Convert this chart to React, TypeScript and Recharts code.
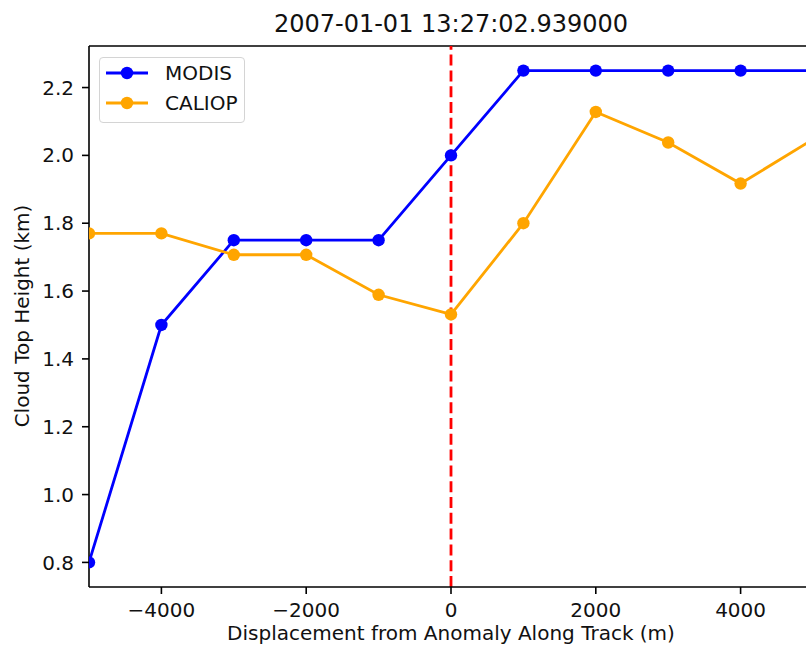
import { LineChart, Line, XAxis, YAxis, ReferenceLine, Legend } from "recharts";

const displacement = [-5000, -4000, -3000, -2000, -1000, 0, 1000, 2000, 3000, 4000, 5000];
const modisHeight = [0.8, 1.5, 1.75, 1.75, 1.75, 2.0, 2.25, 2.25, 2.25, 2.25, 2.25];
const caliopHeight = [1.77, 1.77, 1.707, 1.707, 1.589, 1.531, 1.8, 2.128, 2.038, 1.917, 2.047];

const xTicks = [-4000, -2000, 0, 2000, 4000];
const yTicks = [0.8, 1.0, 1.2, 1.4, 1.6, 1.8, 2.0, 2.2];
const xDomain = [-5000, 5000];
const yDomain = [0.7275, 2.3225];

const titleText = "2007-01-01 13:27:02.939000";
const xLabel = "Displacement from Anomaly Along Track (m)";
const yLabel = "Cloud Top Height (km)";

const series = [
  { key: "modis", name: "MODIS", color: "#0000ff" },
  { key: "caliop", name: "CALIOP", color: "#ffa500" },
];

const data = displacement.map((x, i) => ({
  x,
  modis: modisHeight[i],
  caliop: caliopHeight[i],
}));

const font = "'DejaVu Sans', sans-serif";
const textColor = "#111";
const tickStyle = { fontFamily: font, fontSize: 20, fill: textColor };

function formatX(v: number) {
  return v < 0 ? "\u2212" + Math.abs(v) : String(v);
}

function LegendBox() {
  return (
    <div
      style={{
        position: "relative",
        width: 146,
        height: 66,
        boxSizing: "border-box",
        border: "1px solid #d4d4d4",
        borderRadius: 4,
        background: "rgba(255,255,255,0.8)",
        fontFamily: font,
        fontSize: 20,
        color: textColor,
      }}
    >
      {series.map((s, i) => (
        <div
          key={s.key}
          style={{
            position: "absolute",
            left: 0,
            top: i * 30,
            height: 30,
            width: 144,
            display: "flex",
            alignItems: "center",
          }}
        >
          <svg width={42} height={14} style={{ marginLeft: 6 }}>
            <line x1={0} y1={7} x2={42} y2={7} stroke={s.color} strokeWidth={2.8} />
            <circle cx={21} cy={7} r={6.2} fill={s.color} />
          </svg>
          <span style={{ marginLeft: 17, lineHeight: "30px" }}>{s.name}</span>
        </div>
      ))}
    </div>
  );
}

export default function App() {
  return (
    <div
      style={{
        position: "absolute",
        left: 0,
        top: 0,
        width: 806,
        height: 650,
        overflow: "hidden",
        background: "#fff",
      }}
    >
      <div
        style={{
          position: "absolute",
          left: 0,
          top: 12,
          width: 902,
          textAlign: "center",
          fontFamily: font,
          fontSize: 24,
          lineHeight: "24px",
          color: textColor,
          whiteSpace: "nowrap",
        }}
      >
        {titleText}
      </div>
      <LineChart width={830} height={650} data={data} margin={{ top: 46, right: 17, bottom: 0, left: 0 }}>
        <XAxis
          dataKey="x"
          type="number"
          domain={xDomain}
          ticks={xTicks}
          allowDataOverflow
          tickFormatter={formatX}
          height={63}
          tick={tickStyle}
          tickSize={7}
          tickMargin={9}
          stroke="#000"
          axisLine={{ stroke: "#000", strokeWidth: 1.6 }}
          tickLine={{ stroke: "#000", strokeWidth: 1.6 }}
          label={{
            content: () => (
              <text x={451} y={640} textAnchor="middle" fontFamily={font} fontSize={20} fill={textColor}>
                {xLabel}
              </text>
            ),
          }}
        />
        <YAxis
          type="number"
          domain={yDomain}
          ticks={yTicks}
          allowDataOverflow
          width={89}
          tick={tickStyle}
          tickFormatter={(v: number) => v.toFixed(1)}
          tickSize={7}
          tickMargin={8}
          axisLine={{ stroke: "#000", strokeWidth: 1.6 }}
          tickLine={{ stroke: "#000", strokeWidth: 1.6 }}
          label={{
            content: () => (
              <text
                x={29}
                y={316}
                transform="rotate(-90 29 316)"
                textAnchor="middle"
                fontFamily={font}
                fontSize={20}
                fill={textColor}
              >
                {yLabel}
              </text>
            ),
          }}
        />
        <Legend
          layout="horizontal"
          align="center"
          verticalAlign="middle"
          wrapperStyle={{ left: 99, top: 57, width: 146, height: 66 }}
          content={() => <LegendBox />}
        />
        <ReferenceLine y={yDomain[1]} stroke="#000" strokeWidth={1.6} ifOverflow="visible" />
        {series.map((s) => (
          <Line
            key={s.key}
            type="linear"
            dataKey={s.key}
            name={s.name}
            stroke={s.color}
            strokeWidth={2.8}
            dot={{ r: 6.2, fill: s.color, stroke: "none" }}
            activeDot={false}
            isAnimationActive={false}
          />
        ))}
        <ReferenceLine x={0} stroke="#ff0000" strokeWidth={2.8} strokeDasharray="11 4.8" />
      </LineChart>
    </div>
  );
}
